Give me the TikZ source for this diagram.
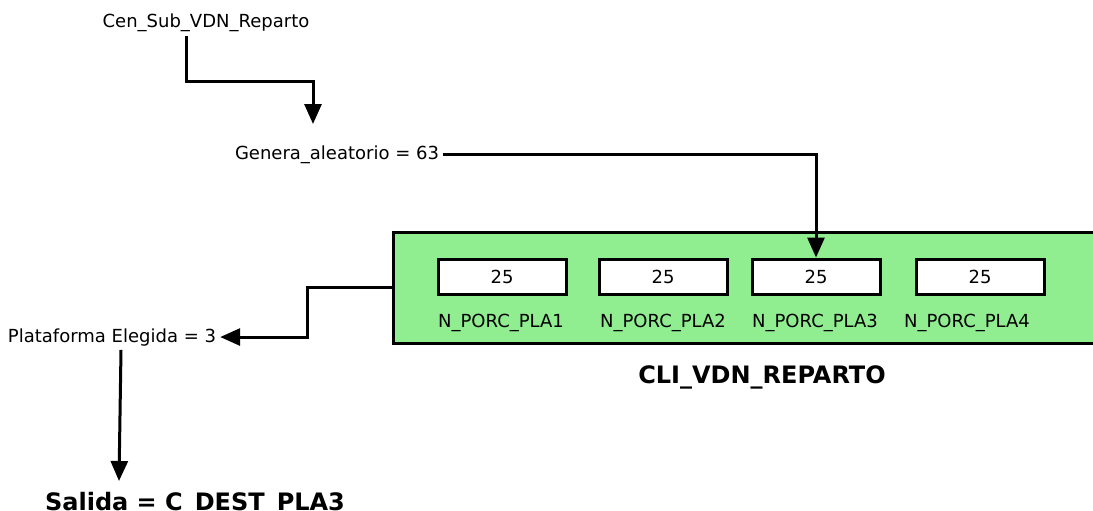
\documentclass[tikz,border=0pt]{standalone}
\usepackage{fontspec}
\setmainfont{DejaVu Sans}
\usetikzlibrary{arrows.meta}
\definecolor{verdetabla}{HTML}{90EE90}
\tikzset{
  txt/.style={font=\fontsize{18}{20}\selectfont, inner sep=4pt, anchor=base},
  titulo/.style={font=\fontsize{24}{26}\selectfont\bfseries, inner sep=4pt, anchor=base},
  flecha/.style={line width=3pt, -{Triangle[length=20pt,width=17pt]}},
  celda/.style={draw, line width=3pt, fill=white, minimum width=128pt, minimum height=35pt,
    inner sep=0pt, font=\fontsize{18}{20}\selectfont},
}
\begin{document}
\begin{tikzpicture}[x=1pt,y=-1pt]
    \useasboundingbox (0,0) rectangle (1093,511);
    % tabla
    \draw[fill=verdetabla, line width=3pt] (393,232) rectangle (1110,343);
    \coordinate (tabla) at (393,287);
    \coordinate (codo) at (307,287);
    \foreach \i/\x/\xe in {1/502/501, 2/663/663, 3/816/815, 4/980/967} {
      \node[celda] (pla\i) at (\x,276.5) {25};
      \node[txt] (et\i) at (\xe,327) {N\_PORC\_PLA\i};
    }
    \node[titulo] (cli) at (762,383) {CLI\_VDN\_REPARTO};
    % textos
    \node[txt] (cen) at (206,28) {Cen\_Sub\_VDN\_Reparto};
    \node[txt] (gen) at (337,159) {Genera\_aleatorio = 63};
    \node[txt] (plat) at (112,342) {Plataforma Elegida = 3};
    \node[titulo] (salida) at (195,510) {Salida = C\_DEST\_PLA3};
    % flechas
    \draw[flecha] (cen.south -| 186,0) |- (313,82) -- (313,124);
    \draw[flecha] (gen.east) -| (pla3.north);
    \draw[flecha] (tabla) -- (codo) |- (plat.east);
    \draw[flecha] (plat.south -| 121,0) -- (119,481);
\end{tikzpicture}
\end{document}
